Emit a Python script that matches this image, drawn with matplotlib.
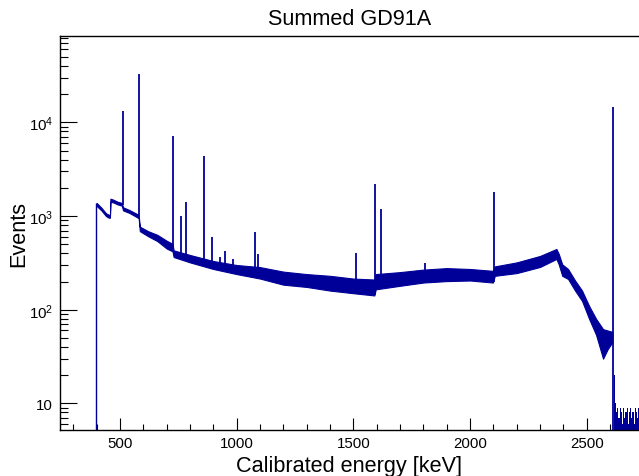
import matplotlib as mpl
mpl.use('Agg')
import matplotlib.pyplot as plt
import matplotlib.ticker as ticker

plt.rcParams['font.family'] = ['Liberation Sans', 'DejaVu Sans']
plt.rcParams['mathtext.fontset'] = 'custom'
plt.rcParams['mathtext.rm'] = 'Liberation Sans'
plt.rcParams['mathtext.it'] = 'Liberation Sans:italic'

# continuum band (lower / upper edge of the noisy spectrum) in counts
cont_energy = [400, 420, 440, 452, 457, 459, 470, 490, 508, 513, 540, 580, 585,
               620, 660, 700, 725, 730, 800, 900, 1000, 1100, 1200, 1300, 1400,
               1500, 1590, 1596, 1700, 1800, 1900, 2000, 2098, 2106, 2200, 2300,
               2370, 2380, 2395, 2420, 2450, 2480, 2510, 2540, 2570, 2590, 2610]
cont_lo = [1280, 1150, 1000, 960, 960, 1420, 1400, 1330, 1290, 1150, 1080, 950, 690,
           610, 540, 450, 420, 365, 320, 272, 240, 215, 185, 175, 160,
           150, 142, 165, 180, 195, 202, 205, 195, 230, 246, 286,
           348, 305, 230, 213, 160, 124, 80, 54, 30, 38, 45]
cont_hi = [1380, 1230, 1070, 1030, 1030, 1530, 1500, 1420, 1380, 1240, 1160, 1030, 770,
           690, 630, 545, 505, 430, 384, 331, 300, 285, 255, 240, 230,
           215, 210, 240, 252, 268, 278, 272, 260, 290, 320, 375,
           445, 395, 305, 272, 205, 160, 110, 80, 62, 60, 58]

# gamma lines
peak_energy = [511, 583, 727, 763, 785, 860, 893, 927, 952, 983, 1079, 1093,
               1512, 1592, 1620, 1806, 2103, 2614]
peak_top = [13300, 32700, 7200, 1000, 1400, 4400, 600, 365, 424, 348, 675, 395,
            400, 2200, 1190, 315, 1800, 14550]
peak_base = [1300, 960, 430, 360, 350, 300, 290, 280, 270, 260, 230, 225,
             150, 145, 170, 200, 200, 3]

# low-count tail above 2614 keV (5 keV bins)
tail_start = 2616
tail_counts = [20, 10, 8, 9, 7, 9, 8, 6, 9, 7, 8, 9, 6, 8, 9, 7, 8, 6, 9, 8, 7, 9]

col = '#000099'

fig = plt.figure(figsize=(6.39, 4.77), dpi=100)
ax = fig.add_axes([60/639, 1-431/477, 579/639, 394/477])

ax.fill_between(cont_energy, cont_lo, cont_hi, color=col, lw=0.8)
ax.vlines(cont_energy[0] - 2, 1, cont_hi[0], color=col, lw=1)
ax.vlines(peak_energy, peak_base, peak_top, color=col, lw=1.3)
tail_edges = [tail_start + 5*i for i in range(len(tail_counts) + 1)]
ax.stairs(tail_counts, tail_edges, baseline=1, fill=True, color=col)

ax.set_yscale('log')
ax.set_xlim(243, 2724)
ax.set_ylim(5.2, 8.35e4)

ax.yaxis.set_major_locator(ticker.FixedLocator([10, 100, 1000, 10000]))
ax.yaxis.set_major_formatter(ticker.FixedFormatter(['10', '$10^{2}$', '$10^{3}$', '$10^{4}$']))
ax.yaxis.set_minor_locator(ticker.LogLocator(base=10, subs=range(2, 10), numticks=20))
ax.yaxis.set_minor_formatter(ticker.NullFormatter())
ax.xaxis.set_major_locator(ticker.MultipleLocator(500))
ax.xaxis.set_minor_locator(ticker.MultipleLocator(100))

ax.tick_params(axis='y', which='major', direction='in', length=12.2, width=0.8, pad=5, labelsize=10.8)
ax.tick_params(axis='y', which='minor', direction='in', length=6, width=0.8)
ax.tick_params(axis='x', which='major', direction='in', length=8.4, width=0.8, pad=4, labelsize=10.8)
ax.tick_params(axis='x', which='minor', direction='in', length=4, width=0.8)
ax.tick_params(top=False, right=False, which='both')
ax.spines['right'].set_visible(False)
for s in ['left', 'bottom', 'top']:
    ax.spines[s].set_linewidth(1)

ax.set_title('Summed GD91A', fontsize=15.6, y=(431-25)/394, pad=0)
ax.set_xlabel('Calibrated energy [keV]', fontsize=15.6, va='baseline')
ax.xaxis.set_label_coords(0.5, (431-472)/394)
ax.set_ylabel('Events', fontsize=15.6)
ax.yaxis.set_label_coords((29-60)/579, 0.5)

fig.savefig('out.png', dpi=100)
